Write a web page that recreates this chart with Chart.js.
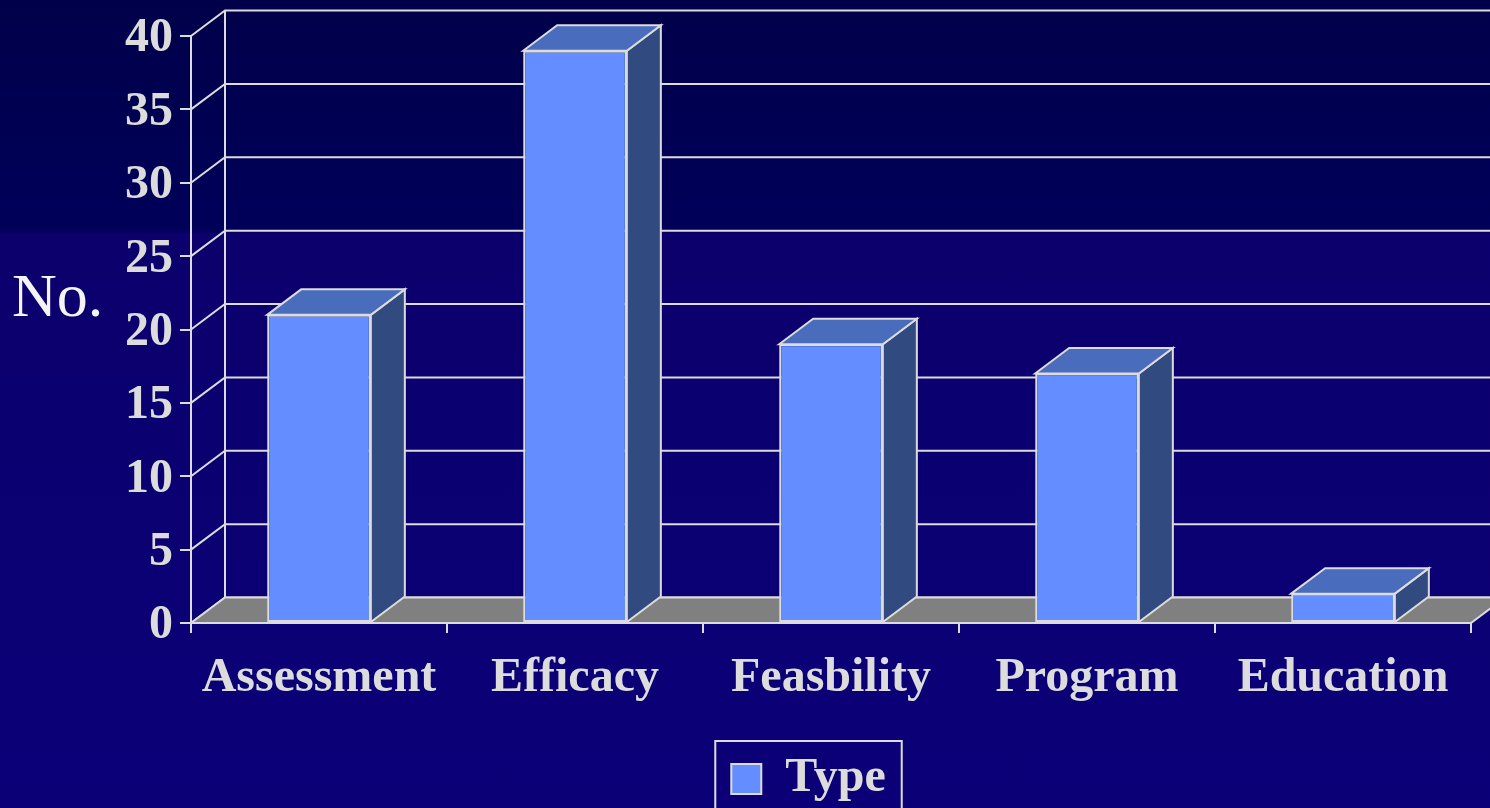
<!DOCTYPE html>
<html>
<head>
<meta charset="utf-8">
<title>Type</title>
<script src="https://cdn.jsdelivr.net/npm/chart.js"></script>
<style>
  html, body { margin: 0; padding: 0; }
  body {
    width: 1490px;
    height: 808px;
    overflow: hidden;
    background: linear-gradient(to bottom, #00004a 0%, #00005a 28.5%, #0b006c 29%, #0c0078 100%);
  }
  #typeChart { display: block; }
</style>
</head>
<body>
<canvas id="typeChart" width="1490" height="808"></canvas>
<script>
// data
const categories = ["Assessment", "Efficacy", "Feasbility", "Program", "Education"];
const typeCounts = [21, 39, 19, 17, 2];
const yTicks = [0, 5, 10, 15, 20, 25, 30, 35, 40];
const seriesName = "Type";
const axisTitle = "No.";

const LINE = "#dcdcdc";
const DX = 34, DY = 25.5; // depth of the fake 3d

function poly(ctx, pts, fill) {
  ctx.beginPath();
  ctx.moveTo(pts[0][0], pts[0][1]);
  for (let i = 1; i < pts.length; i++) ctx.lineTo(pts[i][0], pts[i][1]);
  ctx.closePath();
  ctx.fillStyle = fill;
  ctx.fill();
  ctx.stroke();
}

const depth3d = {
  id: "depth3d",
  afterLayout(chart) {
    // move the legend under the right half like in the original
    chart.legend.left += 73;
    chart.legend.right += 73;
    chart.legend.top += 5;
    chart.legend.bottom += 5;
  },
  beforeDatasetsDraw(chart) {
    const { ctx, chartArea: a, scales } = chart;
    const y = scales.y;
    ctx.save();
    ctx.strokeStyle = LINE;
    ctx.lineWidth = 2;
    // back wall
    yTicks.forEach((v) => {
      const py = y.getPixelForValue(v);
      ctx.beginPath();
      ctx.moveTo(a.left, py);
      ctx.lineTo(a.left + DX, py - DY);
      ctx.lineTo(chart.width + 5, py - DY);
      ctx.stroke();
    });
    const y0 = y.getPixelForValue(yTicks[0]);
    const yTop = y.getPixelForValue(yTicks[yTicks.length - 1]);
    ctx.beginPath();
    ctx.moveTo(a.left + DX, y0 - DY);
    ctx.lineTo(a.left + DX, yTop - DY);
    ctx.stroke();
    // floor
    poly(ctx, [[a.left, y0], [a.right, y0], [a.right + DX, y0 - DY], [a.left + DX, y0 - DY]], "#808080");
    ctx.restore();
  },
  afterDatasetsDraw(chart) {
    const { ctx } = chart;
    const meta = chart.getDatasetMeta(0);
    ctx.save();
    ctx.strokeStyle = LINE;
    ctx.lineWidth = 2;
    meta.data.forEach((bar) => {
      const { x, y, base, width } = bar.getProps(["x", "y", "base", "width"], true);
      const l = x - width / 2, r = x + width / 2;
      poly(ctx, [[r, y], [r + DX, y - DY], [r + DX, base - DY], [r, base]], "#314a80");
      poly(ctx, [[l, y], [l + DX, y - DY], [r + DX, y - DY], [r, y]], "#4a6cbd");
    });
    ctx.restore();
  },
  afterDraw(chart) {
    const { ctx } = chart;
    ctx.save();
    // y title, horizontal
    ctx.fillStyle = "#f4f4f4";
    ctx.font = '62px "Liberation Serif", "Times New Roman", serif';
    ctx.textAlign = "left";
    ctx.textBaseline = "alphabetic";
    ctx.fillText(axisTitle, 12, 316);
    // legend frame
    const hb = chart.legend.legendHitBoxes[0];
    if (hb) {
      ctx.strokeStyle = LINE;
      ctx.lineWidth = 2;
      ctx.strokeRect(hb.left - 16, hb.top - 14, hb.width + 32, 90);
    }
    ctx.restore();
  }
};

new Chart(document.getElementById("typeChart"), {
  type: "bar",
  data: {
    labels: categories,
    datasets: [
      {
        label: seriesName,
        data: typeCounts,
        backgroundColor: "#648eff",
        borderColor: LINE,
        borderWidth: 2,
        borderSkipped: false,
        categoryPercentage: 1,
        barPercentage: 0.405
      }
    ]
  },
  options: {
    responsive: false,
    animation: false,
    devicePixelRatio: 1,
    layout: { padding: { top: 36, right: 19, left: 0, bottom: 0 } },
    plugins: {
      tooltip: { enabled: false },
      legend: {
        position: "bottom",
        labels: {
          color: LINE,
          boxWidth: 30,
          boxHeight: 30,
          padding: 12,
          font: { family: '"Liberation Serif", "Times New Roman", serif', size: 48, weight: "bold" }
        }
      }
    },
    scales: {
      x: {
        afterFit(s) { s.height = 115; },
        grid: { drawOnChartArea: false, drawTicks: true, tickLength: 10, color: LINE, lineWidth: 2 },
        border: { display: true, color: LINE, width: 2 },
        ticks: {
          color: LINE,
          padding: 17,
          maxRotation: 0,
          font: { family: '"Liberation Serif", "Times New Roman", serif', size: 48, weight: "bold" }
        }
      },
      y: {
        min: 0,
        max: 40,
        afterFit(s) { s.width = 191; },
        grid: { drawOnChartArea: false, drawTicks: true, tickLength: 11, color: LINE, lineWidth: 2 },
        border: { display: true, color: LINE, width: 2 },
        ticks: {
          stepSize: 5,
          color: LINE,
          padding: 7,
          labelOffset: 3,
          font: { family: '"Liberation Serif", "Times New Roman", serif', size: 48, weight: "bold" }
        }
      }
    }
  },
  plugins: [depth3d]
});
</script>
</body>
</html>
